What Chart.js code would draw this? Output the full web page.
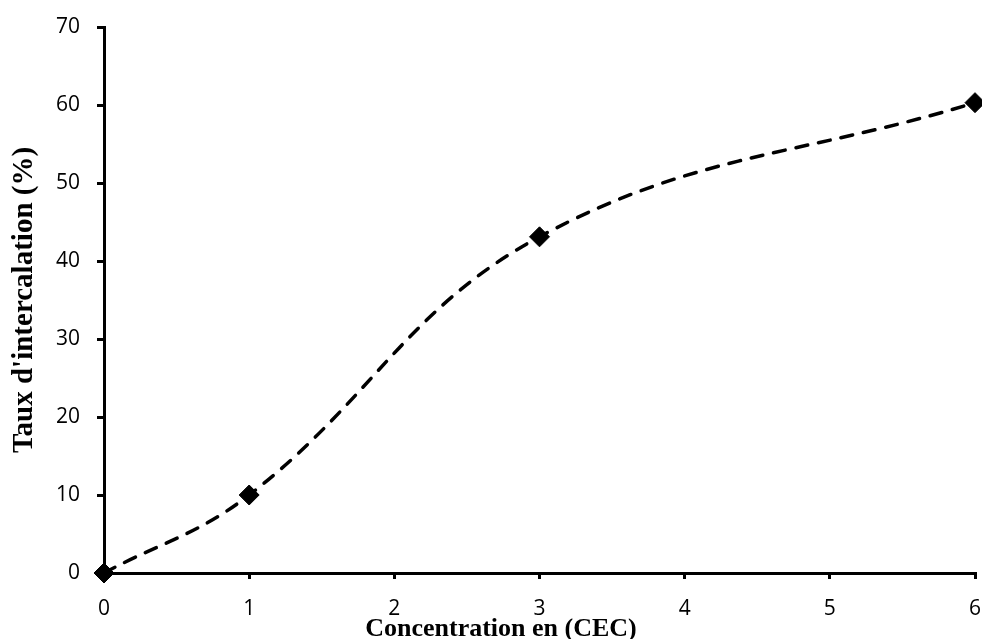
<!DOCTYPE html>
<html>
<head>
<meta charset="utf-8">
<script src="https://cdn.jsdelivr.net/npm/chart.js@4/dist/chart.umd.min.js"></script>
<style>
  html, body { margin: 0; padding: 0; background: #fff; overflow: hidden; }
  #wrap { width: 982px; height: 639px; }
</style>
</head>
<body>
<div id="wrap"><canvas id="chart"></canvas></div>
<script>
const concentrations = [0, 1, 3, 6];
const intercalation = [0, 10, 43.1, 60.3];
const xTicks = [0, 1, 2, 3, 4, 5, 6];
const yTicks = [0, 10, 20, 30, 40, 50, 60, 70];
const xTitle = 'Concentration en (CEC)';
const yTitle = "Taux d'intercalation (%)";

const tickFont = { family: '"Open Sans", sans-serif', size: 21 };

// x title sits a bit left of the plot centre in the original, so draw it by hand
const xTitlePlugin = {
  id: 'xTitle',
  afterDraw(chart) {
    const ctx = chart.ctx;
    ctx.save();
    ctx.font = 'bold 26px "Liberation Serif", "Times New Roman", serif';
    ctx.fillStyle = '#000';
    ctx.textAlign = 'center';
    ctx.textBaseline = 'alphabetic';
    ctx.fillText(xTitle, 501, 636);
    ctx.restore();
  }
};

new Chart(document.getElementById('chart'), {
  type: 'line',
  data: {
    datasets: [{
      label: yTitle,
      data: concentrations.map((x, i) => ({ x: x, y: intercalation[i] })),
      borderColor: '#000',
      borderWidth: 3.5,
      borderDash: [12, 11],
      borderCapStyle: 'round',
      tension: 0.4,
      pointStyle: 'rectRot',
      pointRadius: 10,
      pointBackgroundColor: '#000',
      pointBorderColor: '#000',
      pointBorderWidth: 1,
      clip: false
    }]
  },
  options: {
    responsive: true,
    maintainAspectRatio: false,
    animation: false,
    layout: { autoPadding: false, padding: { left: 7, right: 7, top: 27, bottom: 0 } },
    plugins: {
      legend: { display: false },
      tooltip: { enabled: false }
    },
    scales: {
      x: {
        type: 'linear',
        min: 0,
        max: 6,
        afterBuildTicks: axis => { axis.ticks = xTicks.map(v => ({ value: v })); },
        afterFit: axis => {
          axis.height = 66;
          axis.paddingLeft = 0;
          axis.paddingRight = 0;
        },
        border: { color: '#000', width: 3 },
        grid: { drawOnChartArea: false, drawTicks: true, tickLength: 6, color: '#000', lineWidth: 3 },
        ticks: { color: '#000', font: tickFont, padding: 17, maxRotation: 0 }
      },
      y: {
        min: 0,
        max: 70,
        afterBuildTicks: axis => { axis.ticks = yTicks.map(v => ({ value: v })); },
        afterFit: axis => {
          axis.width = 97;
          axis.paddingTop = 0;
          axis.paddingBottom = 0;
        },
        border: { color: '#000', width: 3 },
        grid: { drawOnChartArea: false, drawTicks: true, tickLength: 7, color: '#000', lineWidth: 3 },
        ticks: { color: '#000', font: tickFont, padding: 17 },
        title: {
          display: true,
          text: yTitle,
          color: '#000',
          font: { family: '"Liberation Serif", "Times New Roman", serif', size: 29, weight: 'bold' },
          padding: { top: 0, bottom: 0 }
        }
      }
    }
  },
  plugins: [xTitlePlugin]
});
</script>
</body>
</html>
